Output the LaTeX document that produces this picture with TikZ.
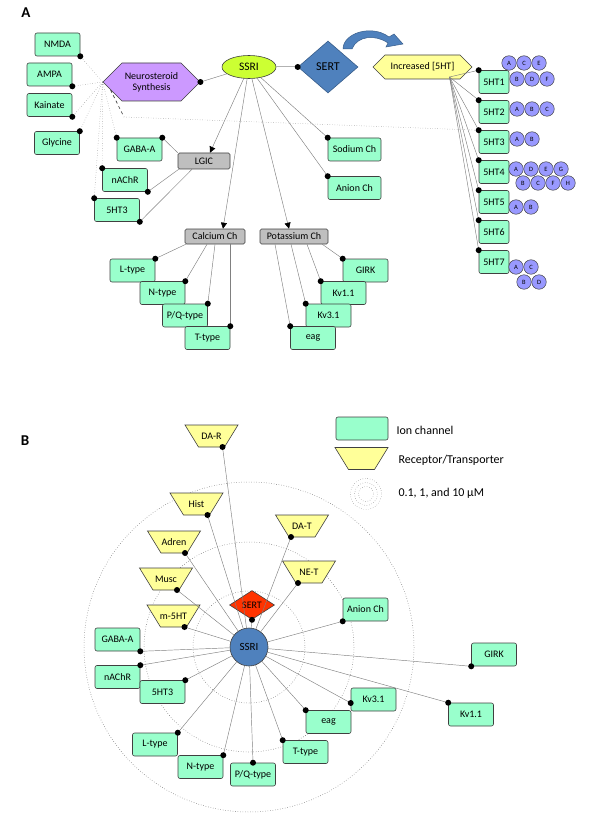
\documentclass[tikz,border=0pt]{standalone}
\usepackage{fontspec}
\setmainfont{Carlito}
\usetikzlibrary{shapes.geometric,shapes.symbols,arrows.meta,calc}

\definecolor{iongreen}{HTML}{99FFCC}
\definecolor{boxgrey}{HTML}{BFBFBF}
\definecolor{neuropurple}{HTML}{CC99FF}
\definecolor{ssrigreen}{HTML}{CCFF33}
\definecolor{sertblue}{HTML}{4F81BD}
\definecolor{sertedge}{HTML}{385D8A}
\definecolor{recyellow}{HTML}{FFFF99}
\definecolor{subblue}{HTML}{9999FF}
\definecolor{sertred}{HTML}{FF3300}

\tikzset{
  ionbox/.style={draw=black!75, fill=iongreen, rounded corners=2pt, line width=0.6pt,
    minimum width=45pt, minimum height=23pt, inner sep=1pt},
  greybox/.style={draw=black!75, fill=boxgrey, rounded corners=1.5pt, line width=0.6pt,
    minimum height=15pt, inner sep=1pt},
  recbox/.style={minimum width=53pt, minimum height=22pt, inner sep=0pt},
  recshape/.style={draw=black!75, fill=recyellow, line width=0.6pt},
  hexbox/.style={signal, signal to=east and west, draw=black!75, line width=0.6pt,
    inner sep=1pt},
  subunit/.style={circle, draw=black!75, fill=subblue, line width=0.5pt,
    minimum size=14.5pt, inner sep=0pt, font=\fontsize{6.5}{7}\selectfont},
  link/.style={draw=black!50, line width=0.45pt},
  dotlink/.style={link, dotted},
  tiplink/.style={link, -{Triangle[length=6pt,width=6pt,color=black]}},
  ringline/.style={draw=black!65, dotted, line width=0.5pt},
  panel/.style={font=\fontsize{15}{16}\selectfont\bfseries}
}
\newcommand\knob[1]{\fill (#1) circle (3);}
% receptor: inverted trapezium, then its node
\newcommand\recnode[4]{%
  \filldraw[recshape] (#2-26.5,#3-11) -- ++(53,0) -- ++(-13.5,22) -- ++(-26,0) -- cycle;
  \node[recbox] (#1) at (#2,#3) {#4};}

\begin{document}
\begin{tikzpicture}[x=1pt,y=-1pt,font=\fontsize{10}{11}\selectfont]
\useasboundingbox (0,0) rectangle (600,826);

% ---------------- panel A
\node[panel] (labA) at (26,12.5) {A};

\node[ionbox] (nmda) at (57.5,44.5) {NMDA};
\node[ionbox] (ampa) at (49.5,74.5) {AMPA};
\node[ionbox] (kain) at (49.5,105) {Kainate};
\node[ionbox] (gly) at (57,143) {Glycine};

\node[hexbox, fill=neuropurple, minimum width=97pt, minimum height=38pt, align=center]
  (neuro) at (151.5,82) {Neurosteroid\\Synthesis};
\node[ellipse, draw=black!75, fill=ssrigreen, line width=0.6pt, minimum width=54pt,
  minimum height=23pt, inner sep=0pt, font=\fontsize{11.5}{12}\selectfont] (ssri) at (249,67) {SSRI};
\node[diamond, draw=sertedge, fill=sertblue, line width=0.6pt, minimum width=60pt,
  minimum height=52pt, inner sep=0pt, font=\fontsize{12}{13}\selectfont] (sert) at (328,67) {SERT};
\node[hexbox, fill=recyellow, minimum width=99pt, minimum height=24pt] (incr) at (422.5,67) {Increased [5HT]};

% curved arrow over SERT
\filldraw[fill=sertblue, draw=sertedge, line width=0.5pt] (343,49)
  .. controls (343,33) and (372,24) .. (389,37) -- (394,34) -- (403,44) -- (386,47) -- (388,43)
  .. controls (375,34) and (357,36) .. (352,49) -- cycle;

\foreach \i in {1,...,7}
  \node[ionbox, minimum width=30pt] (ht\i) at (494,52+30*\i) {5HT\i};

% subunits
\foreach \lab/\px/\py [count=\k] in {A/509/63, C/524/63, E/539/63, B/517/79, D/532/79, F/547/79,
    A/517/109, B/532/109, C/547/109, A/517/139, B/532/139,
    A/516/169, D/531/169, E/546/169, G/561/169, B/523/183, C/538/183, F/553/183, H/568/183,
    A/516/207, B/531/207, A/516/267, C/531/267, B/524/282, D/539/282}
  \node[subunit] (sub\k) at (\px,\py) {\lab};

\node[greybox, minimum width=52pt, minimum height=16pt] (lgic) at (204,161) {LGIC};
\node[ionbox] (gabaa) at (139.5,149.5) {GABA-A};
\node[ionbox] (nachr) at (125,180) {nAChR};
\node[ionbox] (lhtthree) at (117,210) {5HT3};
\node[ionbox, minimum width=53pt] (sodium) at (354.5,149.5) {Sodium Ch};
\node[ionbox, minimum width=53pt] (anion) at (354.5,188) {Anion Ch};

\node[greybox, minimum width=60pt] (calc) at (215,236.5) {Calcium Ch};
\node[greybox, minimum width=68pt] (pota) at (294,236.5) {Potassium Ch};
\node[ionbox] (ltype) at (132.5,270.5) {L-type};
\node[ionbox] (ntype) at (162.5,293) {N-type};
\node[ionbox] (pqtype) at (185,315.5) {P/Q-type};
\node[ionbox] (ttype) at (207.5,338) {T-type};
\node[ionbox] (girk) at (365.5,270.5) {GIRK};
\node[ionbox] (kvone) at (343.5,293) {Kv1.1};
\node[ionbox] (kvthree) at (328.5,315.5) {Kv3.1};
\node[ionbox] (eag) at (313,338) {eag};

% neurosteroid links
\foreach \tgt in {nmda.south east, ampa.south east, kain.south east, gly.north east,
    gabaa.north west, nachr.north west, lhtthree.north west}
  {\draw[dotlink] (neuro.west) -- (\tgt); \knob{\tgt}}
\coordinate (bend) at (124,117);
\draw[black!80, dashed, line width=0.6pt] ($(neuro.west)+(8,8)$) -- (bend);
\draw[dotlink] (bend) -- (ht3.north west);

\draw[link] (ssri) -- (neuro.east); \knob{neuro.east}
\draw[link, black!30, line width=1pt] (ssri) -- (sert.west); \knob{sert.west}
\draw[tiplink] (ssri) -- ([xshift=6pt]lgic.north);
\draw[tiplink] (ssri) -- ([xshift=8pt]calc.north);
\draw[tiplink] (ssri) -- ([xshift=-5pt]pota.north);
\draw[link] (ssri) -- (sodium.north west); \knob{sodium.north west}
\draw[link] (ssri) -- (anion.north west); \knob{anion.north west}

\draw[link] (lgic.north west) -- (gabaa.north east); \knob{gabaa.north east}
\draw[link] ([xshift=1pt]lgic.south west) -- (nachr.south east); \knob{nachr.south east}
\draw[link] ([xshift=-12pt]lgic.south) -- (lhtthree.south east); \knob{lhtthree.south east}

\draw[link] ([xshift=1pt]calc.south west) -- (ltype.north east); \knob{ltype.north east}
\draw[link] ([xshift=-8pt]calc.south) -- (ntype.north east); \knob{ntype.north east}
\draw[link] (calc.south) -- (pqtype.north east); \knob{pqtype.north east}
\draw[link] (calc.south -| ttype.north east) -- (ttype.north east); \knob{ttype.north east}

\draw[link] ([xshift=-6pt]pota.south east) -- (girk.north west); \knob{girk.north west}
\draw[link] ([xshift=13pt]pota.south) -- (kvone.north west); \knob{kvone.north west}
\draw[link] ([xshift=-3pt]pota.south) -- (kvthree.north west); \knob{kvthree.north west}
\draw[link] ([xshift=-19pt]pota.south) -- (eag.north west); \knob{eag.north west}

\coordinate (incrfoot) at ($(incr)+(27,10)$);
\foreach \i in {1,...,7}
  {\draw[link] (incrfoot) -- (ht\i.north west); \knob{ht\i.north west}}

% ---------------- panel B
\node[panel] (labB) at (25,441) {B};

\coordinate (hub) at (249,647);
\draw[ringline] (hub) circle (56) (hub) circle (105) (hub) circle (165);

% legend
\node[ionbox, minimum width=52pt] (legion) at (362,428.5) {};
\node[anchor=west, font=\fontsize{12}{13}\selectfont] (legiontxt) at (393,430) {Ion channel};
\recnode{legrec}{361.5}{458.5}{}
\node[anchor=west, font=\fontsize{12}{13}\selectfont] (legrectxt) at (395,460) {Receptor/Transporter};
\coordinate (legring) at (366,494);
\draw[ringline, line width=0.4pt] (legring) circle (15.5) (legring) circle (11.5) (legring) circle (7.5);
\node[anchor=west, font=\fontsize{12}{13}\selectfont] (legringtxt) at (395,493) {0.1, 1, and 10 µM};

\recnode{dar}{211.5}{436}{DA-R}
\recnode{hist}{196.5}{504}{Hist}
\recnode{adren}{174}{542}{Adren}
\recnode{musc}{166}{579}{Musc}
\recnode{mht}{173.5}{616}{m-5HT}
\recnode{dat}{302}{526}{DA-T}
\recnode{net}{309}{572}{NE-T}

\node[ionbox] (gabab) at (117.5,639.5) {GABA-A};
\node[ionbox] (nachrb) at (117.5,677) {nAChR};
\node[ionbox] (htb) at (162.5,692) {5HT3};
\node[ionbox] (ltb) at (155,744.5) {L-type};
\node[ionbox] (ntb) at (200.5,767) {N-type};
\node[ionbox] (pqb) at (253,774.5) {P/Q-type};
\node[ionbox] (ttb) at (305.5,752) {T-type};
\node[ionbox] (eagb) at (328.5,722) {eag};
\node[ionbox] (kvthreeb) at (373.5,699.5) {Kv3.1};
\node[ionbox] (kvoneb) at (471,714.5) {Kv1.1};
\node[ionbox] (girkb) at (494,654.5) {GIRK};
\node[ionbox] (anionb) at (365.5,609.5) {Anion Ch};

\node[diamond, draw=black!75, fill=sertred, line width=0.6pt, minimum width=45pt,
  minimum height=29pt, inner sep=0pt, font=\fontsize{10}{11}\selectfont] (sertb) at (252,605) {SERT};
\node[circle, draw=black!75, fill=sertblue, line width=0.6pt, minimum size=38pt,
  inner sep=0pt, font=\fontsize{11}{12}\selectfont] (ssrib) at (hub) {SSRI};

\coordinate (dardot) at ($(dar)+(11,11)$);
\coordinate (histdot) at ($(hist)+(11,11)$);
\coordinate (adrendot) at ($(adren)+(11,11)$);
\coordinate (muscdot) at ($(musc)+(11,11)$);
\coordinate (mhtdot) at ($(mht)+(11,11)$);
\coordinate (datdot) at ($(dat)+(-11,11)$);
\coordinate (netdot) at ($(net)+(-11,11)$);
\coordinate (kvthreedot) at ([yshift=-3.5pt]kvthreeb.west);

\foreach \tgt in {dardot, histdot, adrendot, muscdot, mhtdot, datdot, netdot, sertb.south,
    gabab.south east, nachrb.north east, htb.north east, ltb.north east, ntb.north east,
    pqb.north, ttb.north west, eagb.north west, kvthreedot, kvoneb.north west,
    girkb.south west, anionb.south west}
  {\draw[link] (ssrib) -- (\tgt); \knob{\tgt}}

\end{tikzpicture}
\end{document}
